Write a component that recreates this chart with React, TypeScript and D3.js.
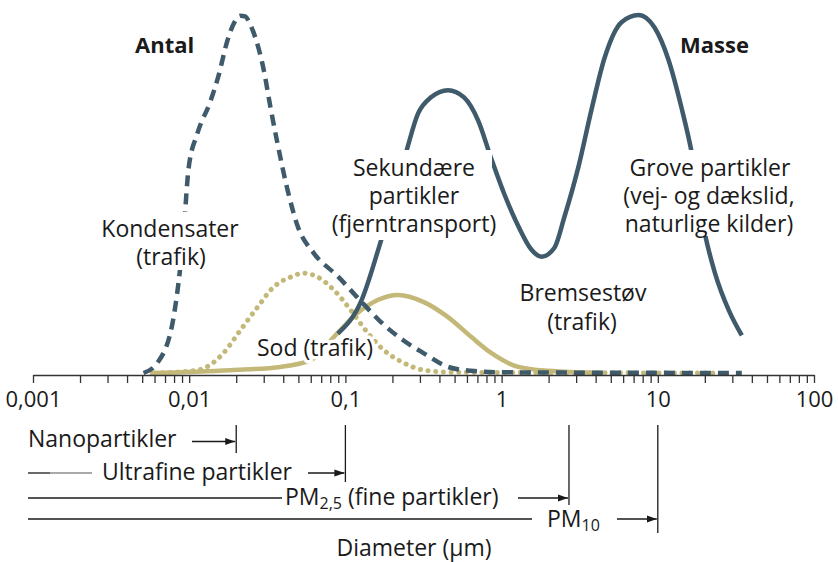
import React, { useEffect, useRef } from 'react';
import * as d3 from 'd3';

const W = 838;
const H = 562;

// Axis ticks
const decadeTicks = [0.001, 0.01, 0.1, 1, 10, 100];
const decadeLabels = ['0,001', '0,01', '0,1', '1', '10', '100'];

// Antal (number distribution, dashed)
const antalD = [0.0051, 0.0063, 0.0079, 0.0092, 0.0099, 0.0113, 0.0137, 0.0154, 0.0176, 0.0195, 0.0212, 0.0228, 0.0245, 0.0266, 0.0299, 0.0332, 0.0368, 0.0427, 0.0495, 0.0627, 0.0894, 0.126, 0.169, 0.237, 0.318, 0.454, 0.638, 1.0, 34.5];
const antalV = [0, 3, 15, 39, 57, 67, 76, 83, 93, 98, 99.8, 99.6, 97.5, 93.5, 85, 74, 64, 51, 41, 33.5, 27, 20, 14.2, 9, 5.5, 1.7, 0.6, 0.2, 0];

// Masse (mass distribution, solid dark)
const masseD = [0.0894, 0.126, 0.169, 0.244, 0.292, 0.353, 0.454, 0.575, 0.708, 0.857, 1.04, 1.28, 1.55, 1.8, 2.18, 2.52, 3.1, 3.76, 4.56, 5.86, 7.53, 9.53, 11.7, 14.2, 16.5, 20.0, 23.2, 28.5, 34.5];
const masseV = [11, 20, 37, 61.5, 72.5, 77, 79, 77, 70.5, 60, 50, 41, 34.5, 32.5, 35, 43.5, 57.5, 73.5, 88, 98, 100, 96.5, 87.5, 74, 61.5, 39, 28, 17.5, 10.5];

// Sod (dotted olive)
const sodD = [0.006, 0.0113, 0.0166, 0.0213, 0.0274, 0.0347, 0.0446, 0.0541, 0.0665, 0.0843, 0.108, 0.139, 0.176, 0.237, 0.318, 0.5, 24.9];
const sodV = [0, 0.8, 5.6, 12, 18.4, 24, 26.8, 27.9, 26.8, 23.2, 17.6, 11.2, 6.4, 2.8, 0.8, 0.2, 0];

// Solid olive
const bremsD = [0.0056, 0.0184, 0.0385, 0.06, 0.0893, 0.12, 0.161, 0.217, 0.318, 0.454, 0.638, 0.857, 1.28, 1.99, 4.4];
const bremsV = [0, 0.8, 1.7, 3.6, 11.2, 16.8, 20.4, 21.8, 19.8, 15.6, 10.1, 5.6, 1.7, 0.6, 0];

// Size class boundaries (µm)
const boundaryD = [0.02, 0.1, 2.7, 10];

const DARK = '#3f5a6a';
const OLIVE = '#c3b878';
const INK = '#1a1a1a';
const FONT = "'Open Sans', 'Noto Sans', sans-serif";

const x = d3.scaleLog().domain([0.001, 100]).range([33, 814]);
const y = d3.scaleLinear().domain([0, 100]).range([373, 15]);

const zip = (a: number[], b: number[]) => a.map((d, i) => [d, b[i]] as [number, number]);
const line = d3
  .line<[number, number]>()
  .x((d) => x(d[0]))
  .y((d) => y(d[1]))
  .curve(d3.curveMonotoneX);

const minorTicks: number[] = [];
for (let e = -3; e < 2; e++) {
  for (let m = 1; m <= 9; m++) minorTicks.push(m * Math.pow(10, e));
}
minorTicks.push(100);

export default function App() {
  const axisRef = useRef<SVGGElement>(null);

  useEffect(() => {
    if (!axisRef.current) return;
    const g = d3.select(axisRef.current);
    const axis = d3
      .axisBottom(x)
      .tickValues(minorTicks)
      .tickSize(8)
      .tickSizeOuter(0)
      .tickPadding(8)
      .tickFormat((d: any) => {
        const i = decadeTicks.findIndex((t) => Math.abs(t - d) / t < 1e-6);
        return i >= 0 ? decadeLabels[i] : '';
      });
    g.call(axis as any);
    g.select('.domain').attr('stroke', '#333').attr('stroke-width', 1.5);
    g.selectAll('.tick line').attr('stroke', '#333').attr('stroke-width', 1.3);
    g.selectAll('.tick text')
      .attr('fill', INK)
      .style('font-family', FONT)
      .style('font-size', '22px');
  }, []);

  const xb = boundaryD.map((d) => x(d));

  const tx = { fontFamily: FONT, fontSize: 23, fill: INK } as any;

  return (
    <svg width={W} height={H} style={{ position: 'absolute', left: 0, top: 0, background: '#fff' }}>
      <defs>
        <marker id="arr" markerWidth="10" markerHeight="8" refX="10" refY="4" orient="auto" markerUnits="userSpaceOnUse">
          <path d="M0,0.5 L10,4 L0,7.5 z" fill={INK} />
        </marker>
      </defs>

      {/* curves */}
      <path d={line(zip(bremsD, bremsV)) || ''} fill="none" stroke={OLIVE} strokeWidth={4.5} />
      <path d={line(zip(sodD, sodV)) || ''} fill="none" stroke={OLIVE} strokeWidth={5} strokeDasharray="0.1 7.6" strokeLinecap="round" />
      <path d={line(zip(antalD, antalV)) || ''} fill="none" stroke={DARK} strokeWidth={4.5} strokeDasharray="11 7" />
      <path d={line(zip(masseD, masseV)) || ''} fill="none" stroke={DARK} strokeWidth={4.5} />

      {/* white boxes behind multi-line labels */}
      <rect x={98} y={212} width={144} height={58} fill="#fff" />
      <rect x={340} y={150} width={152} height={90} fill="#fff" />
      <rect x={616} y={150} width={184} height={86} fill="#fff" />

      <g ref={axisRef} transform={`translate(0,375)`} />

      {/* labels */}
      <text {...tx} fontSize={22} x={135} y={53} fontWeight="bold">Antal</text>
      <text {...tx} fontSize={22} x={680} y={53} fontWeight="bold">Masse</text>

      <text {...tx} textAnchor="middle">
        <tspan x={170} y={237}>Kondensater</tspan>
        <tspan x={171} y={265}>(trafik)</tspan>
      </text>
      <text {...tx} textAnchor="middle">
        <tspan x={414} y={176}>Sekundære</tspan>
        <tspan x={414} y={204}>partikler</tspan>
        <tspan x={414} y={232}>(fjerntransport)</tspan>
      </text>
      <text {...tx} textAnchor="middle">
        <tspan x={710} y={176}>Grove partikler</tspan>
        <tspan x={709} y={204}>(vej- og dækslid,</tspan>
        <tspan x={709} y={232}>naturlige kilder)</tspan>
      </text>
      <text {...tx} textAnchor="middle">
        <tspan x={583} y={301}>Bremsestøv</tspan>
        <tspan x={582} y={330}>(trafik)</tspan>
      </text>
      <text {...tx} x={315} y={356} textAnchor="middle" stroke="#fff" strokeWidth={7} strokeLinejoin="round" style={{ paintOrder: 'stroke' }}>Sod (trafik)</text>

      {/* size classes */}
      <g stroke={INK} strokeWidth={1.3} fill="none">
        <line x1={192} x2={xb[0] - 1} y1={441.5} y2={441.5} markerEnd="url(#arr)" />
        <line x1={xb[0]} x2={xb[0]} y1={425} y2={453} />

        <line x1={28} x2={50} y1={473} y2={473} />
        <line x1={50} x2={92} y1={473} y2={473} stroke="#8c8c8c" />
        <line x1={308} x2={xb[1] - 1} y1={473} y2={473} markerEnd="url(#arr)" />
        <line x1={xb[1]} x2={xb[1]} y1={425} y2={482} />

        <line x1={28} x2={282} y1={498} y2={498} />
        <line x1={518} x2={xb[2] - 1} y1={498} y2={498} markerEnd="url(#arr)" />
        <line x1={xb[2]} x2={xb[2]} y1={425} y2={505} />

        <line x1={28} x2={532} y1={519} y2={519} />
        <line x1={617} x2={xb[3] - 1} y1={519} y2={519} markerEnd="url(#arr)" />
        <line x1={xb[3]} x2={xb[3]} y1={425} y2={533} />
      </g>
      <text {...tx} x={28} y={447}>Nanopartikler</text>
      <text {...tx} x={102} y={480}>Ultrafine partikler</text>
      <text {...tx} x={285} y={505}>
        PM<tspan fontSize={16} dy={4}>2,5</tspan>
        <tspan dy={-4}> (fine partikler)</tspan>
      </text>
      <text {...tx} x={547} y={527}>
        PM<tspan fontSize={16} dy={4}>10</tspan>
      </text>
      <text {...tx} x={414} y={556} textAnchor="middle">Diameter (µm)</text>
    </svg>
  );
}
